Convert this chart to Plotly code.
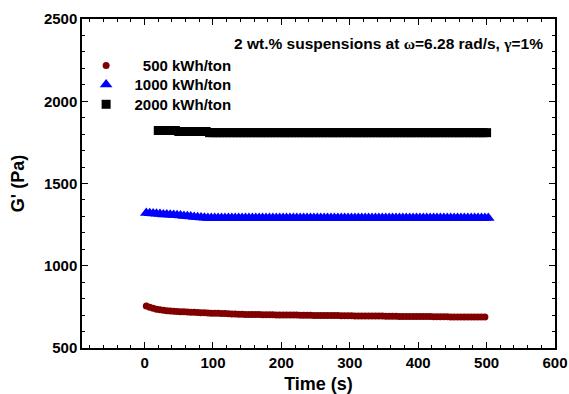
import plotly.graph_objects as go

# ---- data ----
t0_500, dt_500 = 2.5, 5
g500 = [756, 748, 741, 736, 732, 729, 727, 725, 723, 722,
        721, 720, 719, 718, 717, 716, 715, 714, 713, 712,
        712, 711, 710, 709, 708, 707, 706, 705, 705, 704,
        704, 703, 703, 703, 702, 702, 702, 702, 701, 701,
        701, 700, 700, 700, 700, 699, 699, 699, 699, 698,
        698, 698, 698, 697, 697, 697, 697, 696, 696, 696,
        696, 695, 695, 695, 695, 694, 694, 694, 694, 694,
        693, 693, 693, 693, 692, 692, 692, 692, 692, 691,
        691, 691, 691, 691, 690, 690, 690, 690, 690, 689,
        689, 689, 689, 689, 688, 688, 688, 688, 688, 688]

t0_1000, dt_1000 = 2.5, 5
g1000 = [1320, 1319, 1318, 1316, 1314, 1312, 1311, 1310, 1308, 1307,
         1305, 1303, 1301, 1299, 1297, 1295, 1293, 1292, 1291, 1291,
         1291, 1291, 1291, 1291, 1291, 1291, 1291, 1291, 1291, 1291,
         1291, 1291, 1291, 1291, 1291, 1291, 1291, 1291, 1291, 1291,
         1291, 1291, 1291, 1291, 1291, 1291, 1291, 1291, 1291, 1291,
         1291, 1291, 1291, 1291, 1291, 1291, 1291, 1291, 1291, 1291,
         1291, 1291, 1291, 1291, 1291, 1291, 1291, 1291, 1291, 1291,
         1291, 1291, 1291, 1291, 1291, 1291, 1291, 1291, 1291, 1291,
         1291, 1291, 1291, 1291, 1291, 1291, 1291, 1291, 1291, 1291,
         1291, 1291, 1291, 1291, 1291, 1291, 1291, 1291, 1291, 1291,
         1291]

t0_2000, dt_2000 = 20, 5
g2000 = [1822, 1822, 1822, 1822, 1822, 1822,
         1816, 1816, 1816, 1816, 1816, 1816, 1816, 1816, 1816,
         1809, 1809, 1809, 1809, 1809, 1809, 1809, 1809, 1809, 1809,
         1809, 1809, 1809, 1809, 1809, 1809, 1809, 1809, 1809, 1809,
         1809, 1809, 1809, 1809, 1809, 1809, 1809, 1809, 1809, 1809,
         1809, 1809, 1809, 1809, 1809, 1809, 1809, 1809, 1809, 1809,
         1809, 1809, 1809, 1809, 1809, 1809, 1809, 1809, 1809, 1809,
         1809, 1809, 1809, 1809, 1809, 1809, 1809, 1809, 1809, 1809,
         1809, 1809, 1809, 1809, 1809, 1809, 1809, 1809, 1809, 1809,
         1809, 1809, 1809, 1809, 1809, 1809, 1809, 1809, 1809, 1809,
         1809, 1809]

series_names = ["500 kWh/ton", "1000 kWh/ton", "2000 kWh/ton"]

t500 = [t0_500 + dt_500 * i for i in range(len(g500))]
t1000 = [t0_1000 + dt_1000 * i for i in range(len(g1000))]
t2000 = [t0_2000 + dt_2000 * i for i in range(len(g2000))]

FONT = "Arial, 'Liberation Sans', sans-serif"
NB = "\u00a0"

fig = go.Figure()
fig.add_trace(go.Scatter(x=t500, y=g500, mode="markers", name=NB * 4 + series_names[0], legend="legend",
                         marker=dict(symbol="circle", size=7, color="#800000", line=dict(width=0))))
fig.add_trace(go.Scatter(x=t1000, y=g1000, mode="markers", name=NB * 2 + series_names[1], legend="legend2",
                         marker=dict(symbol="triangle-up", size=11, color="#0000FF", line=dict(width=0))))
fig.add_trace(go.Scatter(x=t2000, y=g2000, mode="markers", name=NB * 2 + series_names[2], legend="legend3",
                         marker=dict(symbol="square", size=9, color="#000000", line=dict(width=0))))

axis_common = dict(
    showline=True, linecolor="black", linewidth=1.5, mirror="ticks",
    ticks="inside", ticklen=6, tickwidth=1.3, tickcolor="black",
    showgrid=False, zeroline=False, automargin=False, ticklabeloverflow="allow",
    tickfont=dict(family=FONT, size=15, color="black", weight="bold"),
)

legend_common = dict(x=0.0087, xanchor="left", yanchor="middle",
                     bgcolor="rgba(0,0,0,0)", borderwidth=0,
                     font=dict(family=FONT, size=15, color="black", weight="bold"),
                     itemsizing="trace")

fig.update_layout(
    width=569, height=394,
    margin=dict(l=82, r=14, t=19, b=46),
    paper_bgcolor="white", plot_bgcolor="white",
    font=dict(family=FONT, color="black"),
    showlegend=True,
    legend=dict(legend_common, y=0.858),
    legend2=dict(legend_common, y=0.800),
    legend3=dict(legend_common, y=0.740),
    xaxis=dict(axis_common, range=[-91.5, 600], tick0=0, dtick=100,
               minor=dict(dtick=20, tick0=0, ticks="inside", ticklen=3.5, tickwidth=1.3, tickcolor="black"),
               title=dict(text="Time (s)", font=dict(family=FONT, size=18, color="black", weight="bold"), standoff=8)),
    yaxis=dict(axis_common, range=[500, 2500], tick0=500, dtick=500,
               minor=dict(dtick=100, tick0=500, ticks="inside", ticklen=3.5, tickwidth=1.3, tickcolor="black"),
               title=dict(text="G' (Pa)", font=dict(family=FONT, size=18, color="black", weight="bold"), standoff=15)),
    annotations=[dict(
        text="2 wt.% suspensions at <span style='font-family:Liberation Serif, Times New Roman, serif'>\u03c9</span>=6.28 rad/s, "
             "<span style='font-family:Liberation Serif, Times New Roman, serif'>\u03b3</span>=1%",
        xref="paper", yref="paper", x=0.979, y=0.926, xanchor="right", yanchor="middle",
        showarrow=False, font=dict(family=FONT, size=15.5, color="black", weight="bold"))],
)

fig.write_html("out.html", config={"displayModeBar": False},
               post_script="document.body.style.margin='0';document.body.style.overflow='hidden';")
